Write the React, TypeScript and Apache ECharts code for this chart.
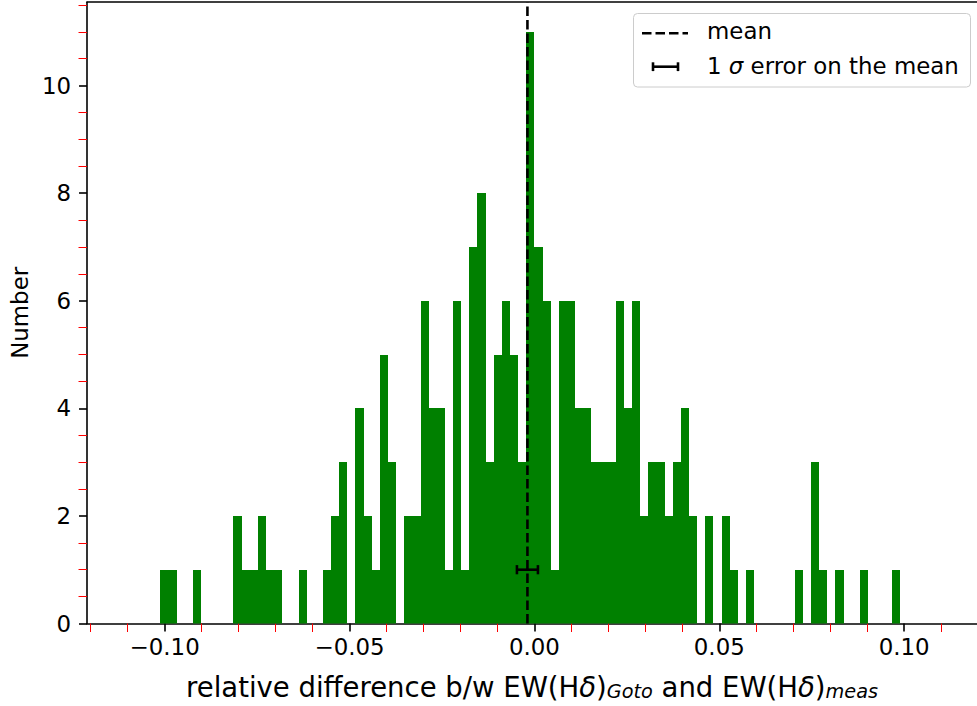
import React, { useEffect, useRef } from "react";
import * as echarts from "echarts";

// ---- data ----
const binStart = -0.11;
const binWidth = 0.0022;
const counts = [
  0, 0, 0, 0, 1, 1, 0, 0, 1, 0,
  0, 0, 0, 2, 1, 1, 2, 1, 1, 0,
  0, 1, 0, 0, 1, 2, 3, 0, 4, 2,
  1, 5, 3, 0, 2, 2, 6, 4, 4, 1,
  6, 1, 7, 8, 3, 5, 6, 5, 3, 11,
  7, 6, 1, 6, 6, 4, 4, 3, 3, 3,
  6, 4, 6, 2, 3, 3, 2, 3, 4, 2,
  0, 2, 0, 2, 1, 0, 1, 0, 0, 0,
  0, 0, 1, 0, 3, 1, 0, 1, 0, 0,
  1, 0, 0, 0, 1, 0, 0, 0, 0, 0,
];
const meanValue = -0.00189;
const meanError = 0.00284;
const errBarY = 1;

const xMin = -0.121;
const xMax = 0.1197;
const yMin = 0;
const yMax = 11.55;
const xMajorTicks = [-0.1, -0.05, 0, 0.05, 0.1];
const xMinorTicks = [-0.12, -0.11, -0.09, -0.08, -0.07, -0.06, -0.04, -0.03, -0.02, -0.01,
  0.01, 0.02, 0.03, 0.04, 0.06, 0.07, 0.08, 0.09, 0.11];
const yMajorTicks = [0, 2, 4, 6, 8, 10];
const yMinorTicks = [0.5, 1, 1.5, 2.5, 3, 3.5, 4.5, 5, 5.5, 6.5, 7, 7.5, 8.5, 9, 9.5, 10.5, 11, 11.5];

const meanLabel = "mean";
const errLabel = "1 {i|σ} error on the mean";
const xName = "{n|relative difference b/w EW(H}{i|δ}{n|)}{s|Goto}{n| and EW(H}{i|δ}{n|)}{s|meas}";
const yName = "Number";

const FONT = "DejaVu Sans";
const BLACK = "#000000";
const GREEN = "#008000";

function fmtX(v: number): string {
  const s = Math.abs(v).toFixed(2);
  return v < -1e-9 ? "\u2212" + s : s;
}

export default function App() {
  const ref = useRef<HTMLDivElement>(null);

  useEffect(() => {
    if (!ref.current) return;
    const chart = echarts.init(ref.current, null, { renderer: "svg" });

    const barData = counts
      .map((c, k) => [binStart + k * binWidth, binStart + (k + 1) * binWidth, c])
      .filter((d) => d[2] > 0);

    const tickLabel = { fontFamily: FONT, fontSize: 22.9, color: BLACK };

    const option: any = {
      animation: false,
      backgroundColor: "#ffffff",
      textStyle: { fontFamily: FONT },
      grid: { left: 87, right: 0, top: 2.2, bottom: 81, containLabel: false },
      xAxis: [
        {
          type: "value",
          position: "bottom",
          min: xMin,
          max: xMax,
          axisLine: { show: true, onZero: false, lineStyle: { color: BLACK, width: 1.6 } },
          axisTick: { show: true, customValues: xMajorTicks, length: 8, lineStyle: { color: BLACK, width: 1.6 } },
          axisLabel: { show: true, customValues: xMajorTicks, formatter: fmtX, margin: 12, ...tickLabel },
          splitLine: { show: false },
          name: xName,
          nameLocation: "middle",
          nameGap: 49.5,
          nameTextStyle: {
            fontFamily: FONT,
            fontSize: 27.5,
            color: BLACK,
            lineHeight: 28,
            rich: {
              n: { fontFamily: FONT, fontSize: 27.5, color: BLACK, lineHeight: 28 },
              i: { fontFamily: FONT, fontSize: 27.5, fontStyle: "italic", color: BLACK, lineHeight: 28 },
              s: { fontFamily: FONT, fontSize: 19.25, fontStyle: "italic", color: BLACK, lineHeight: 10, verticalAlign: "bottom" },
            },
          },
        },
        {
          type: "value",
          position: "bottom",
          min: xMin,
          max: xMax,
          axisLine: { show: false, onZero: false },
          axisTick: { show: true, customValues: xMinorTicks, length: 8.5, lineStyle: { color: "#ff0000", width: 1 } },
          axisLabel: { show: false },
          splitLine: { show: false },
        },
        {
          type: "value",
          position: "top",
          min: xMin,
          max: xMax,
          axisLine: { show: true, onZero: false, lineStyle: { color: BLACK, width: 1.6 } },
          axisTick: { show: false },
          axisLabel: { show: false },
          splitLine: { show: false },
        },
      ],
      yAxis: [
        {
          type: "value",
          position: "left",
          min: yMin,
          max: yMax,
          axisLine: { show: true, onZero: false, lineStyle: { color: BLACK, width: 1.6 } },
          axisTick: { show: true, customValues: yMajorTicks, length: 8, lineStyle: { color: BLACK, width: 1.6 } },
          axisLabel: { show: true, customValues: yMajorTicks, margin: 16, ...tickLabel },
          splitLine: { show: false },
          name: yName,
          nameLocation: "middle",
          nameGap: 55,
          nameTextStyle: { fontFamily: FONT, fontSize: 22.9, color: BLACK },
        },
        {
          type: "value",
          position: "left",
          min: yMin,
          max: yMax,
          axisLine: { show: false, onZero: false },
          axisTick: { show: true, customValues: yMinorTicks, length: 8.5, lineStyle: { color: "#ff0000", width: 1 } },
          axisLabel: { show: false },
          splitLine: { show: false },
        },
      ],
      series: [
        {
          type: "custom",
          name: "histogram",
          xAxisIndex: 0,
          yAxisIndex: 0,
          encode: { x: [0, 1], y: 2 },
          data: barData,
          z: 2,
          renderItem: (params: any, api: any) => {
            const a = api.coord([api.value(0), api.value(2)]);
            const b = api.coord([api.value(1), 0]);
            const x0 = Math.round(a[0]);
            const x1 = Math.round(b[0]);
            const y0 = Math.round(a[1]);
            const y1 = b[1];
            return {
              type: "rect",
              shape: { x: x0, y: y0, width: x1 - x0, height: y1 - y0 },
              style: { fill: GREEN, stroke: null, lineWidth: 0 },
            };
          },
        },
        {
          type: "line",
          name: meanLabel,
          xAxisIndex: 0,
          yAxisIndex: 0,
          data: [[meanValue, yMin], [meanValue, yMax]],
          symbol: "none",
          z: 5,
          lineStyle: { color: BLACK, width: 2.6, type: [9.5, 4] },
        },
        {
          type: "custom",
          name: "1 σ error on the mean",
          xAxisIndex: 0,
          yAxisIndex: 0,
          encode: { x: 0, y: 1 },
          data: [[meanValue, errBarY, meanError]],
          z: 6,
          renderItem: (params: any, api: any) => {
            const m = api.value(0);
            const y = api.value(1);
            const e = api.value(2);
            const l = api.coord([m - e, y]);
            const r = api.coord([m + e, y]);
            const st = { stroke: BLACK, lineWidth: 2.6 };
            return {
              type: "group",
              children: [
                { type: "line", shape: { x1: l[0], y1: l[1], x2: r[0], y2: r[1] }, style: st },
                { type: "line", shape: { x1: l[0], y1: l[1] - 4.6, x2: l[0], y2: l[1] + 4.6 }, style: st },
                { type: "line", shape: { x1: r[0], y1: r[1] - 4.6, x2: r[0], y2: r[1] + 4.6 }, style: st },
              ],
            };
          },
        },
      ],
      graphic: [
        {
          type: "group",
          z: 100,
          children: [
            {
              type: "rect",
              shape: { x: 633.5, y: 13.5, width: 337, height: 73.5, r: 4 },
              style: { fill: "rgba(255,255,255,0.8)", stroke: "#cccccc", lineWidth: 1 },
            },
            {
              type: "line",
              shape: { x1: 642, y1: 33.3, x2: 688, y2: 33.3 },
              style: { stroke: BLACK, lineWidth: 2.6, lineDash: [9.5, 4] },
            },
            {
              type: "text",
              x: 707,
              y: 31.4,
              style: { text: meanLabel, fontFamily: FONT, fontSize: 22.9, fill: BLACK, verticalAlign: "middle", align: "left" },
            },
            { type: "line", shape: { x1: 653, y1: 66.7, x2: 678, y2: 66.7 }, style: { stroke: BLACK, lineWidth: 2.6 } },
            { type: "line", shape: { x1: 653, y1: 62.3, x2: 653, y2: 71.1 }, style: { stroke: BLACK, lineWidth: 2.6 } },
            { type: "line", shape: { x1: 678, y1: 62.3, x2: 678, y2: 71.1 }, style: { stroke: BLACK, lineWidth: 2.6 } },
            {
              type: "text",
              x: 707,
              y: 66.1,
              style: {
                text: errLabel,
                fontFamily: FONT,
                fontSize: 22.9,
                fill: BLACK,
                verticalAlign: "middle",
                align: "left",
                rich: {
                  i: { fontFamily: FONT, fontSize: 22.9, fontStyle: "italic", fill: BLACK },
                },
              },
            },
          ],
        },
      ],
    };

    chart.setOption(option);
    return () => chart.dispose();
  }, []);

  return (
    <div
      ref={ref}
      style={{ position: "absolute", left: 0, top: 0, width: 977, height: 706, background: "#ffffff" }}
    />
  );
}
